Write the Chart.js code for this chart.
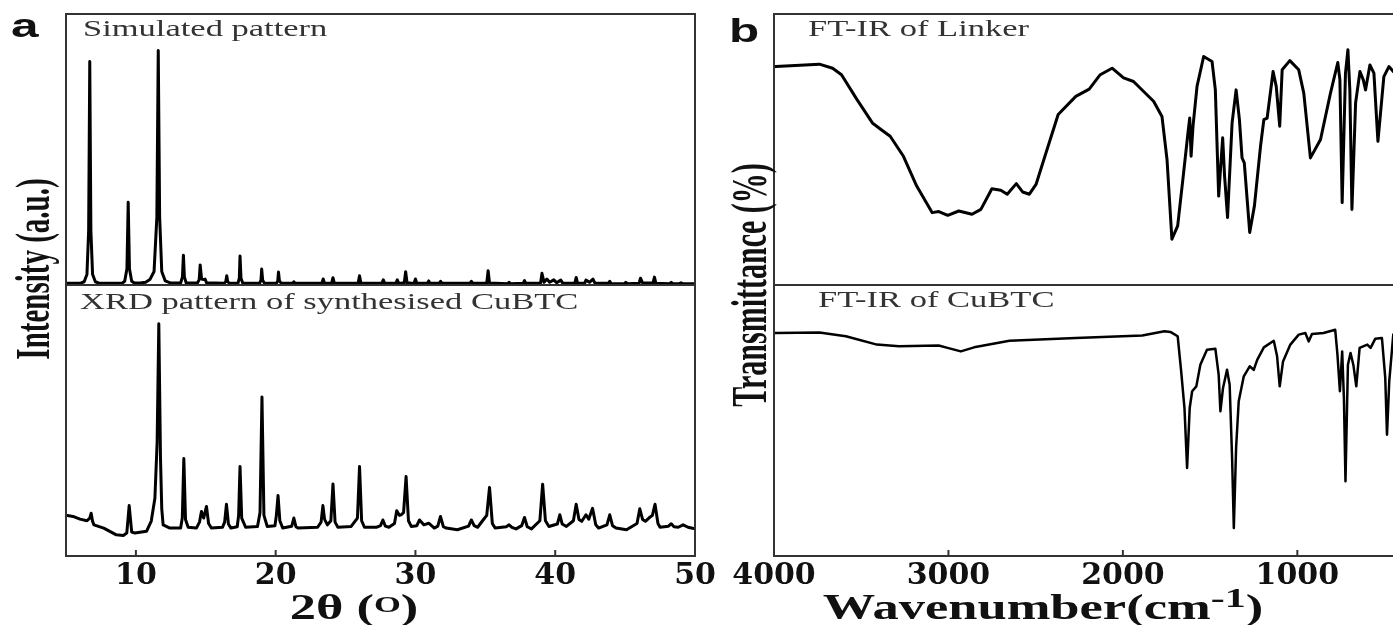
<!DOCTYPE html>
<html>
<head>
<meta charset="utf-8">
<script src="https://cdn.jsdelivr.net/npm/chart.js@4.4.1/dist/chart.umd.min.js"></script>
<style>
  html, body { margin: 0; padding: 0; background: #fff; overflow: hidden; width: 1393px; height: 625px; }
  canvas { position: absolute; left: 0; top: 0; }
</style>
</head>
<body>
<canvas id="xrdChart" width="1393" height="625"></canvas>
<canvas id="irChart" width="1410" height="625"></canvas>
<script>
// ---- panel a : XRD (2θ in degrees, intensity in arbitrary units) ----
const xrdTicks = [10, 20, 30, 40, 50];

const simTheta = [5.0,6.0,6.3,6.5,6.62,6.7,6.78,6.9,7.1,7.4,
  9.0,9.2,9.36,9.45,9.54,9.7,9.9,10.3,10.7,11.0,
  11.3,11.5,11.6,11.7,11.85,12.1,12.5,13.2,13.33,13.4,
  13.47,13.6,14.4,14.53,14.6,14.7,14.85,14.95,15.05,16.3,
  16.43,16.5,16.57,16.7,17.3,17.4,17.45,17.52,17.65,18.85,
  18.95,19.0,19.07,19.2,20.05,20.15,20.2,20.27,20.4,21.2,
  21.3,21.4,23.3,23.4,23.5,24.0,24.1,24.2,25.9,26.0,
  26.1,27.6,27.7,27.8,28.6,28.7,28.8,29.2,29.3,29.4,
  29.9,30.0,30.1,30.85,30.95,31.05,31.7,31.8,31.9,33.9,
  34.0,34.1,35.1,35.2,35.3,36.6,36.7,36.8,37.7,37.8,
  37.9,38.95,39.05,39.2,39.4,39.6,39.9,40.1,40.4,40.55,
  41.4,41.5,41.6,42.1,42.2,42.45,42.7,42.85,43.8,43.9,
  44.0,44.95,45.05,45.15,46.0,46.1,46.25,46.6,47.0,47.1,
  47.2,48.2,48.3,48.4,48.9,49.0,49.1,50.0];
const simInt = [6,6,12,40,200,825,200,40,12,6,
  6,14,60,305,60,14,7,7,10,20,
  50,250,865,250,50,15,7,7,30,110,
  30,7,7,20,74,22,20,22,8,6,
  12,34,12,6,6,25,107,25,6,6,
  18,59,18,6,6,15,48,15,6,6,
  12,6,6,22,6,6,27,6,6,34,
  6,6,19,6,6,19,6,8,49,8,
  6,22,6,6,15,6,6,14,6,6,
  14,6,7,53,7,5,10,5,6,16,
  6,7,43,10,22,10,19,8,18,6,
  6,28,6,6,18,10,22,6,6,14,
  5,5,10,5,6,25,8,7,8,29,
  6,5,10,5,5,8,5,5];

const expTheta = [5.0,5.5,6.0,6.5,6.7,6.8,6.9,7.0,7.7,8.6,
  9.1,9.35,9.52,9.7,9.93,10.76,11.1,11.36,11.52,11.64,
  11.76,11.85,11.95,12.43,13.2,13.32,13.43,13.55,13.74,14.33,
  14.55,14.69,14.85,15.05,15.2,15.4,16.2,16.35,16.48,16.62,
  16.8,17.25,17.35,17.45,17.57,17.85,18.7,18.88,19.02,19.16,
  19.4,19.95,20.05,20.17,20.3,20.5,21.15,21.3,21.45,21.6,
  23.0,23.25,23.38,23.5,23.7,23.95,24.1,24.25,24.45,25.4,
  25.85,26.0,26.15,26.35,27.2,27.5,27.67,27.85,28.1,28.5,
  28.66,28.85,28.97,29.15,29.33,29.5,29.7,30.1,30.29,30.6,
  30.95,31.35,31.6,31.79,32.0,32.2,33.0,33.8,34.0,34.2,
  34.45,34.8,35.1,35.3,35.5,35.7,36.5,36.7,36.9,37.2,
  37.6,37.8,38.0,38.3,38.9,39.1,39.3,39.55,40.15,40.33,
  40.5,40.8,41.3,41.5,41.7,41.9,42.2,42.4,42.67,42.9,
  43.1,43.7,43.9,44.1,44.35,45.1,45.85,46.05,46.25,46.45,
  46.7,46.95,47.14,47.35,47.5,48.1,48.3,48.5,48.8,49.15,
  49.5,50.0];
const expInt = [150,146,136,130,140,158,128,115,103,78,
  76,85,186,88,85,91,129,213,420,857,
  360,175,115,103,103,140,360,135,106,103,
  125,164,140,183,120,103,106,125,191,118,
  103,108,150,330,140,106,109,160,587,150,
  109,112,150,223,130,103,110,140,108,103,
  106,125,186,135,115,130,266,125,106,109,
  140,330,130,106,106,112,133,110,106,120,
  167,150,152,160,293,130,109,112,133,115,
  121,103,110,146,108,103,97,110,133,112,
  106,130,150,253,120,103,108,115,106,100,
  112,142,108,100,130,265,130,109,118,152,
  118,109,130,191,135,128,152,136,176,115,
  103,115,152,112,103,97,120,174,135,128,
  140,150,191,120,106,110,119,108,106,115,
  106,100];

// ---- panel b : FT-IR (wavenumber cm-1, transmittance %) ----
const irTicks = [4000, 3000, 2000, 1000];

const linkerWn = [4000,3989,3740,3664,3613,3524,3436,3385,3334,3258,3182,
  3093,3055,3004,2941,2865,2814,2751,2700,2663,2611,
  2574,2536,2498,2447,2371,2270,2193,2130,2062,1996,
  1939,1881,1824,1776,1747,1719,1686,1652,1627,1617,
  1609,1598,1575,1537,1489,1470,1451,1428,1417,1400,
  1374,1351,1332,1317,1304,1273,1246,1211,1192,1173,
  1139,1121,1101,1087,1043,992,963,925,867,810,
  768,756,743,724,710,699,687,666,641,622,
  609,584,561,538,504,475,450,420];
const linkerT = [80.5,80.6,81.5,80.0,77.6,68.4,59.8,57.3,54.9,47.5,36.5,
  26.7,27.1,25.7,27.3,26.1,27.9,35.5,35.0,33.5,37.4,
  34.3,33.5,37.1,47.5,62.9,69.6,72.3,77.6,80.0,76.4,
  75.1,71.4,67.8,62.2,46.3,16.9,21.8,41.4,56.1,61.6,
  47.5,58.6,73.3,84.3,82.5,72.0,32.8,54.3,40.2,24.9,
  59.8,72.0,61.0,46.9,45.1,19.4,29.2,51.2,61.0,61.6,
  78.8,73.3,58.6,79.4,82.8,79.4,70.8,46.9,53.7,70.8,
  82.1,75.7,30.4,78.2,86.8,72.0,27.9,67.2,78.8,75.7,
  72.0,81.2,78.2,53.0,76.9,80.6,78.8,79.0];

const cubtcWn = [4000,3989,3740,3588,3410,3283,3056,3005,2929,2853,
  2650,2270,1889,1762,1728,1686,1666,1647,1632,1617,
  1603,1579,1556,1518,1470,1451,1441,1426,1403,1388,
  1374,1364,1351,1336,1307,1273,1250,1230,1192,1135,
  1116,1101,1082,1040,992,954,935,916,850,783,
  770,756,743,733,724,710,695,679,662,643,
  599,580,553,515,496,486,473,450,420];
const cubtcT = [82.3,82.3,82.5,81.1,78.0,77.4,77.7,76.8,75.5,77.0,
  79.4,80.4,81.4,82.9,82.7,81.1,68.2,54.6,32.5,54.6,
  60.8,62.6,70.6,76.1,76.5,66.9,53.4,62.0,68.7,63.2,
  36.2,10.3,39.9,57.1,66.3,70.0,68.7,72.4,77.0,79.4,
  73.7,62.6,71.8,78.0,81.7,82.3,79.2,81.9,82.3,83.5,
  74.3,60.8,75.5,58.3,27.6,70.6,74.9,70.6,62.6,76.8,
  78.0,76.8,80.2,80.4,65.7,44.8,64.5,81.7,81.9];

// the source figure is stretched sideways, text is drawn the same way
const STRETCH = 1.5;
const STRETCH_Y_TITLE = 1.7;

function toPoints(xs, ys) {
  return xs.map((x, i) => ({ x: x, y: ys[i] }));
}

// text stretched horizontally, returns the drawn width
function wideText(ctx, text, x, y, font, color) {
  ctx.save();
  ctx.font = font;
  const w = ctx.measureText(text).width * STRETCH;
  ctx.translate(x, y);
  ctx.scale(STRETCH, 1);
  ctx.fillStyle = color;
  ctx.textAlign = 'left';
  ctx.textBaseline = 'alphabetic';
  ctx.fillText(text, 0, 0);
  ctx.restore();
  return w;
}

// frame, divider, inward ticks and all the labels
const decorPlugin = {
  id: 'decor',
  afterDraw(chart, args, opts) {
    const ctx = chart.ctx;
    const area = chart.chartArea;
    const xs = chart.scales.x;
    const yTop = chart.scales.yTop;

    ctx.save();
    ctx.strokeStyle = '#333';
    ctx.lineWidth = 2;
    ctx.strokeRect(area.left, area.top, area.right - area.left, area.bottom - area.top);
    ctx.beginPath();
    ctx.moveTo(area.left, yTop.bottom);
    ctx.lineTo(area.right, yTop.bottom);
    ctx.stroke();
    xs.ticks.forEach(t => {
      const px = xs.getPixelForValue(t.value);
      ctx.beginPath();
      ctx.moveTo(px, area.bottom);
      ctx.lineTo(px, area.bottom - 6);
      ctx.stroke();
    });
    ctx.restore();

    // panel letter
    wideText(ctx, opts.letter.text, opts.letter.x, opts.letter.y, 'bold 33px "Liberation Sans"', '#111');

    // labels inside the frames
    opts.notes.forEach(n => wideText(ctx, n.text, n.x, n.y, '23px "Liberation Serif"', '#333'));

    // rotated y title, stretched across its thickness
    ctx.save();
    ctx.font = 'bold ' + opts.yTitle.size + 'px "Liberation Serif"';
    ctx.fillStyle = '#111';
    ctx.translate(opts.yTitle.x, opts.yTitle.y);
    ctx.rotate(-Math.PI / 2);
    ctx.scale(1, STRETCH_Y_TITLE);
    ctx.textAlign = 'center';
    ctx.textBaseline = 'alphabetic';
    ctx.fillText(opts.yTitle.text, 0, 0);
    ctx.restore();

    // x title with superscript pieces
    let total = 0;
    opts.xTitle.parts.forEach(p => {
      ctx.font = 'bold ' + p[1] + 'px "Liberation Serif"';
      total += ctx.measureText(p[0]).width * STRETCH;
    });
    let cx = opts.xTitle.cx - total / 2;
    opts.xTitle.parts.forEach(p => {
      cx += wideText(ctx, p[0], cx, p[2], 'bold ' + p[1] + 'px "Liberation Serif"', '#111');
    });
  }
};

const tickFont = { family: 'DejaVu Serif', weight: 'bold', size: 30 };

function lineSet(points, axis, width) {
  return {
    data: points,
    yAxisID: axis,
    borderColor: '#000',
    borderWidth: width,
    pointRadius: 0,
    tension: 0,
    borderJoinStyle: 'round',
    fill: false
  };
}

// plain numbers on the x axis, no thousands separator
function xTickOpts() {
  return { font: tickFont, color: '#111', padding: 2, maxRotation: 0, autoSkip: false, callback: v => String(v) };
}

// Panel a
new Chart(document.getElementById('xrdChart'), {
  type: 'line',
  data: {
    datasets: [
      lineSet(toPoints(simTheta, simInt), 'yTop', 3),
      lineSet(toPoints(expTheta, expInt), 'yBot', 3)
    ]
  },
  plugins: [decorPlugin],
  options: {
    responsive: false,
    animation: false,
    devicePixelRatio: 1,
    layout: { padding: { left: 66, right: 698, top: 14, bottom: 29 } },
    scales: {
      x: {
        type: 'linear', min: 5, max: 50,
        afterBuildTicks: s => { s.ticks = xrdTicks.map(v => ({ value: v })); },
        grid: { display: false, drawTicks: false },
        border: { display: false },
        ticks: xTickOpts()
      },
      yBot: { type: 'linear', position: 'left', min: 0, max: 1000, stack: 'a', stackWeight: 1, weight: 1, display: false },
      yTop: { type: 'linear', position: 'left', min: 0, max: 1000, stack: 'a', stackWeight: 1, weight: 2, display: false }
    },
    plugins: {
      legend: { display: false },
      tooltip: { enabled: false },
      decor: {
        letter: { text: 'a', x: 11, y: 37 },
        notes: [
          { text: 'Simulated pattern', x: 83, y: 36 },
          { text: 'XRD pattern of synthesised CuBTC', x: 80, y: 309 }
        ],
        yTitle: { text: 'Intensity (a.u.)', size: 29, x: 49, y: 269 },
        xTitle: { cx: 354, parts: [['2θ (', 35, 619], ['O', 23, 612], [')', 35, 619]] }
      }
    }
  }
});

// Panel b
new Chart(document.getElementById('irChart'), {
  type: 'line',
  data: {
    datasets: [
      lineSet(toPoints(linkerWn, linkerT), 'yTop', 3),
      lineSet(toPoints(cubtcWn, cubtcT), 'yBot', 2.5)
    ]
  },
  plugins: [decorPlugin],
  options: {
    responsive: false,
    animation: false,
    devicePixelRatio: 1,
    layout: { padding: { left: 774, right: 8, top: 14, bottom: 29 } },
    scales: {
      x: {
        type: 'linear', min: 400, max: 4000, reverse: true,
        afterBuildTicks: s => { s.ticks = irTicks.map(v => ({ value: v })); },
        grid: { display: false, drawTicks: false },
        border: { display: false },
        ticks: xTickOpts()
      },
      yBot: { type: 'linear', position: 'left', min: 0, max: 100, stack: 'b', stackWeight: 1, weight: 1, display: false },
      yTop: { type: 'linear', position: 'left', min: 0, max: 100, stack: 'b', stackWeight: 1, weight: 2, display: false }
    },
    plugins: {
      legend: { display: false },
      tooltip: { enabled: false },
      decor: {
        letter: { text: 'b', x: 729, y: 42 },
        notes: [
          { text: 'FT-IR of Linker', x: 808, y: 36 },
          { text: 'FT-IR of CuBTC', x: 818, y: 307 }
        ],
        yTitle: { text: 'Transmittance (%)', size: 30, x: 766, y: 285 },
        xTitle: { cx: 1043, parts: [['Wavenumber(cm', 35, 619], ['-1', 28, 607], [')', 35, 619]] }
      }
    }
  }
});
</script>
</body>
</html>
